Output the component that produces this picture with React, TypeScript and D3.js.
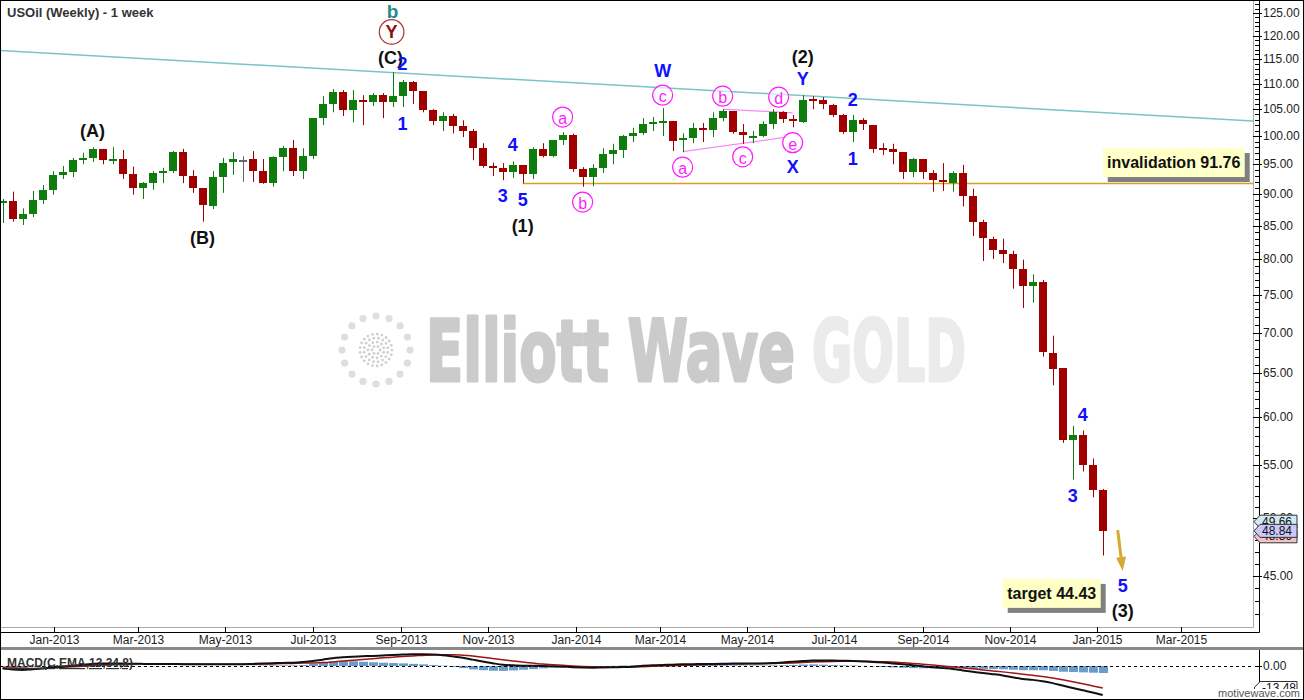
import React from 'react';
import * as d3 from 'd3';

const FONT = '"Liberation Sans", Arial, Helvetica, sans-serif';

// ---------- DATA ----------
// weekly candles, first bar = week of 26 Nov 2012
const firstWeek = Date.UTC(2012, 10, 26);
const WEEK_MS = 7 * 24 * 3600 * 1000;

const openP = [
  88.4, 88.8, 86.0, 86.8, 89.0, 90.7, 93.2, 93.7, 95.7, 96.1,
  97.7, 95.7, 95.9, 93.3, 91.0, 91.8, 93.5, 93.8, 97.1, 93.0,
  91.0, 88.2, 92.9, 95.3, 95.8, 95.9, 93.8, 91.7, 96.2, 97.8,
  93.8, 96.4, 103.3, 106.0, 108.3, 104.8, 106.8, 106.4, 107.7, 106.4,
  107.5, 110.3, 108.5, 104.8, 102.7, 103.7, 101.8, 100.9, 97.8, 94.7,
  94.4, 93.7, 94.9, 93.3, 97.7, 96.4, 99.3, 100.2, 94.2, 92.8,
  94.4, 96.8, 97.5, 100.0, 100.5, 102.2, 102.5, 102.7, 99.3, 99.6,
  101.5, 101.1, 103.3, 104.6, 100.7, 99.8, 100.0, 102.2, 104.4, 103.1,
  102.7, 107.0, 106.8, 105.8, 103.9, 100.7, 102.9, 102.0, 97.8, 97.7,
  97.1, 93.7, 95.9, 93.5, 92.3, 91.8, 93.5, 89.7, 85.6, 83.0,
  81.3, 80.7, 78.6, 76.2, 76.7, 67.5, 65.6, 57.6, 58.1, 55.0,
  52.6,
];
const highP = [
  89.2, 90.4, 87.7, 90.5, 91.5, 93.8, 94.7, 96.1, 97.0, 98.0,
  97.7, 98.0, 97.5, 94.6, 92.0, 93.8, 94.4, 97.3, 97.7, 94.0,
  91.0, 93.8, 96.1, 97.1, 96.4, 97.3, 95.9, 96.4, 98.2, 99.3,
  97.8, 103.3, 107.5, 108.9, 108.7, 108.7, 107.7, 108.1, 108.1, 112.3,
  110.7, 110.5, 108.5, 105.0, 104.4, 104.1, 102.9, 101.3, 98.7, 95.3,
  95.2, 95.5, 94.9, 98.0, 98.7, 99.3, 100.7, 100.4, 94.5, 95.0,
  97.8, 98.6, 100.2, 101.5, 103.3, 103.5, 105.2, 102.7, 100.5, 102.4,
  102.4, 104.4, 105.0, 104.6, 102.2, 100.9, 102.7, 105.0, 104.6, 103.9,
  107.7, 107.5, 107.3, 106.0, 104.1, 103.9, 103.3, 102.0, 98.7, 98.6,
  97.1, 96.1, 95.9, 94.0, 95.2, 93.8, 94.9, 90.9, 85.9, 83.3,
  83.0, 81.2, 79.9, 77.8, 77.0, 69.6, 65.6, 59.1, 58.6, 55.7,
  52.7,
];
const lowP = [
  85.4, 85.6, 85.1, 86.3, 88.4, 89.9, 92.5, 92.8, 95.0, 95.4,
  95.0, 95.0, 92.5, 89.9, 89.2, 90.7, 91.8, 93.5, 91.8, 90.2,
  85.6, 87.6, 90.2, 93.2, 92.0, 92.0, 91.7, 91.2, 93.8, 93.0,
  92.5, 95.9, 102.0, 104.4, 103.7, 102.5, 102.0, 105.6, 103.3, 105.4,
  105.4, 106.0, 104.4, 102.0, 100.9, 100.5, 99.8, 95.7, 94.4, 93.0,
  92.3, 92.7, 91.76, 92.5, 96.2, 96.2, 98.4, 93.7, 91.2, 91.3,
  93.5, 95.0, 96.1, 98.9, 100.2, 100.9, 100.0, 97.3, 97.1, 98.7,
  98.9, 99.8, 102.7, 100.4, 98.6, 98.7, 99.8, 101.3, 102.4, 101.6,
  102.4, 105.0, 105.0, 103.5, 100.4, 98.9, 101.1, 97.0, 96.6, 95.0,
  92.5, 92.8, 92.5, 90.4, 90.5, 90.4, 88.0, 83.4, 79.7, 80.0,
  79.4, 75.8, 73.2, 73.9, 67.0, 63.6, 57.3, 53.6, 54.4, 51.9,
  46.7,
];
const closeP = [
  88.8, 86.0, 86.8, 89.0, 90.7, 93.2, 93.7, 95.7, 96.1, 97.7,
  95.7, 95.9, 93.3, 91.0, 91.8, 93.5, 93.8, 97.1, 93.0, 91.0,
  88.2, 92.9, 95.3, 95.9, 95.8, 93.8, 91.7, 96.2, 97.8, 93.8,
  96.4, 103.3, 106.0, 108.3, 104.8, 106.8, 106.4, 107.7, 106.4, 107.5,
  110.3, 108.5, 104.8, 102.7, 103.7, 101.8, 100.9, 97.8, 94.7, 94.5,
  93.7, 94.9, 93.3, 97.7, 96.4, 99.3, 100.2, 94.2, 92.8, 94.4,
  96.8, 97.5, 100.0, 100.5, 102.2, 102.5, 102.7, 99.1, 99.6, 101.5,
  101.3, 103.3, 104.6, 100.7, 100.2, 100.0, 102.2, 104.4, 103.1, 102.7,
  106.8, 106.8, 106.0, 103.9, 100.7, 102.9, 102.2, 97.7, 97.7, 97.1,
  93.7, 95.9, 93.7, 92.3, 92.0, 93.5, 89.7, 85.6, 83.1, 81.3,
  80.7, 78.6, 76.2, 76.7, 67.5, 65.6, 57.6, 58.1, 55.0, 52.6,
  48.84,
];

// MACD(C,EMA,13,34,8)
const macdLine = [
  -1.6, -2.2, -2.5, -2.0, -1.5, -0.9, -0.4, 0.2, 0.8, 1.3,
  1.6, 1.6, 1.5, 1.4, 1.3, 1.2, 1.2, 1.2, 1.1, 1.1,
  1.0, 1.0, 1.0, 1.0, 1.1, 1.3, 1.5, 1.7, 1.9, 2.0,
  2.4, 3.1, 3.9, 4.8, 5.3, 5.7, 6.0, 6.2, 6.5, 6.8,
  7.0, 7.2, 7.2, 7.0, 6.6, 5.9, 5.1, 3.9, 2.7, 1.7,
  0.8, 0.4, 0.2, 0.1, 0.0, -0.2, -0.4, -0.7, -0.9, -1.0,
  -0.9, -0.8, -0.6, -0.4, 0.2, 0.4, 0.6, 0.8, 1.0, 1.1,
  1.2, 1.3, 1.4, 1.5, 1.5, 1.5, 1.6, 1.8, 2.2, 2.6,
  3.0, 3.3, 3.3, 3.3, 3.2, 3.1, 2.8, 2.5, 2.1, 1.6,
  1.1, 0.4, -0.2, -0.8, -1.3, -1.8, -2.7, -3.5, -4.3, -5.0,
  -5.8, -6.9, -7.9, -8.5, -9.3, -10.5, -12.0, -13.5, -14.9, -16.2,
  -17.8,
];
const signalLine = [
  -1.0, -1.2, -1.4, -1.5, -1.4, -1.2, -0.8, -0.5, -0.1, 0.3,
  0.7, 1.0, 1.2, 1.3, 1.4, 1.4, 1.3, 1.3, 1.2, 1.2,
  1.1, 1.1, 1.0, 1.0, 1.0, 1.1, 1.2, 1.3, 1.5, 1.6,
  1.8, 1.9, 2.1, 2.5, 3.0, 3.5, 4.0, 4.5, 5.0, 5.4,
  5.8, 6.2, 6.5, 6.8, 6.9, 6.9, 6.6, 6.1, 5.4, 4.6,
  3.8, 3.1, 2.4, 1.8, 1.2, 0.8, 0.4, 0.0, -0.3, -0.5,
  -0.6, -0.7, -0.7, -0.6, -0.4, -0.2, 0.0, 0.2, 0.4, 0.6,
  0.8, 0.9, 1.0, 1.2, 1.3, 1.4, 1.5, 1.5, 1.7, 1.9,
  2.1, 2.4, 2.6, 2.8, 2.9, 2.9, 2.9, 2.8, 2.6, 2.4,
  2.0, 1.6, 1.1, 0.6, 0.0, -0.5, -1.1, -1.7, -2.4, -3.0,
  -3.6, -4.3, -5.0, -5.7, -6.4, -7.3, -8.4, -9.6, -10.9, -12.2,
  -13.5,
];
const macdHist = [
  -0.6, -1.0, -1.1, -0.5, -0.1, 0.3, 0.4, 0.7, 0.9, 1.0,
  0.9, 0.6, 0.3, 0.1, -0.1, -0.2, -0.1, -0.1, -0.1, -0.1,
  -0.1, -0.1, 0.0, 0.0, 0.1, 0.2, 0.3, 0.4, 0.4, 0.4,
  0.6, 1.4, 2.2, 2.8, 3.0, 2.9, 2.6, 2.3, 2.0, 1.8,
  1.6, 1.3, 1.0, 0.6, 0.2, -0.6, -1.3, -2.1, -2.6, -2.9,
  -3.0, -2.7, -2.3, -1.9, -1.4, -1.0, -0.7, -0.6, -0.5, -0.4,
  -0.2, 0.1, 0.3, 0.4, 0.6, 0.6, 0.7, 0.8, 0.9, 0.8,
  0.7, 0.6, 0.5, 0.4, 0.3, 0.3, 0.3, 0.4, 0.5, 0.6,
  0.9, 1.0, 0.8, 0.6, 0.4, 0.3, 0.1, -0.2, -0.6, -0.9,
  -1.1, -1.3, -1.4, -1.4, -1.3, -1.3, -1.5, -1.7, -1.8, -1.9,
  -2.0, -2.3, -2.6, -2.6, -2.6, -3.0, -3.5, -3.7, -3.9, -4.1,
  -4.3,
];

const priceTickLabels = [45, 50, 55, 60, 65, 70, 75, 80, 85, 90, 95, 100, 105, 110, 115, 120, 125];
const monthTickLabels = [
  'Jan-2013', 'Mar-2013', 'May-2013', 'Jul-2013', 'Sep-2013', 'Nov-2013',
  'Jan-2014', 'Mar-2014', 'May-2014', 'Jul-2014', 'Sep-2014', 'Nov-2014',
  'Jan-2015', 'Mar-2015',
];

// wave labels: text, bar index (1-based), price, kind
const waveLabels = [
  { t: '(A)', i: 10, p: 100.9, k: 'deg' },
  { t: '(B)', i: 21, p: 83.1, k: 'deg' },
  { t: 'b', i: 40, p: 125.4, k: 'teal' },
  { t: 'Y', i: 39.9, p: 120.8, k: 'red' },
  { t: '(C)', i: 39.8, p: 115.2, k: 'deg' },
  { t: '2', i: 41, p: 114.0, k: 'minor' },
  { t: '1', i: 41, p: 102.2, k: 'minor' },
  { t: '4', i: 52, p: 98.4, k: 'minor' },
  { t: '3', i: 51, p: 89.7, k: 'minor' },
  { t: '5', i: 53, p: 89.0, k: 'minor' },
  { t: '(1)', i: 53, p: 84.9, k: 'deg' },
  { t: 'a', i: 57, p: 103.5, k: 'minute' },
  { t: 'b', i: 59, p: 88.7, k: 'minute' },
  { t: 'W', i: 67, p: 112.5, k: 'minor' },
  { t: 'c', i: 67, p: 107.7, k: 'minute' },
  { t: 'a', i: 69, p: 94.5, k: 'minute' },
  { t: 'b', i: 73, p: 107.5, k: 'minute' },
  { t: 'c', i: 75, p: 96.3, k: 'minute' },
  { t: 'd', i: 78.6, p: 107.3, k: 'minute' },
  { t: 'e', i: 80, p: 98.8, k: 'minute' },
  { t: 'X', i: 80, p: 94.5, k: 'minor' },
  { t: 'Y', i: 81, p: 110.9, k: 'minor' },
  { t: '(2)', i: 81, p: 115.4, k: 'deg' },
  { t: '2', i: 86, p: 106.8, k: 'minor' },
  { t: '1', i: 86, p: 96.0, k: 'minor' },
  { t: '4', i: 109, p: 60.3, k: 'minor' },
  { t: '3', i: 108, p: 52.0, k: 'minor' },
  { t: '5', i: 113, p: 44.2, k: 'minor' },
  { t: '(3)', i: 113, p: 42.2, k: 'deg' },
];

// trend channel line through two highs (bar index, price)
const trendAnchors = [
  [40, 112.2],
  [81, 107.6],
];
// triangle boundary lines (bar index, price)
const triangleUpper = [
  [73, 105.0],
  [80, 104.3],
];
const triangleLower = [
  [69, 97.2],
  [79.4, 99.8],
];
const invalidationLevel = 91.76;
const invalidationStartBar = 53;
const targetLevel = 44.43;
const arrowPts = [
  [112.5, 48.9],
  [113, 45.4],
];
const noteBoxes = [
  { t: 'invalidation 91.76', i: 118.1, p: 95.3, w: 142 },
  { t: 'target ' + targetLevel.toFixed(2), i: 105.9, p: 43.6, w: 98 },
];
const priceTags = [
  { v: 48.36, fill: '#f2c4c4' },
  { v: 49.66, fill: '#d2eaf4' },
  { v: 48.84, fill: '#c8c8fa' },
];
const macdTagValue = -13.48;

// ---------- COMPONENT ----------
export default function App() {
  const W = 1304;
  const H = 700;
  const plotR = 1253;
  const plotB = 627;
  const axisX = 1259;
  const axisY = 632;

  const x = d3
    .scaleUtc()
    .domain([new Date(Date.UTC(2013, 0, 1)), new Date(Date.UTC(2015, 0, 1))])
    .range([54, 1097]);
  const xi = (i: number) => x(new Date(firstWeek + (i - 1) * WEEK_MS));
  const y = d3.scaleLog().domain([41.02, 128.0]).range([plotB, 0]);
  const ym = d3.scaleLinear().domain([0, -13.48]).range([666, 688]);
  const parseMonth = d3.utcParse('%b-%Y');

  const GREEN = '#0e7d0e';
  const RED = '#a00000';
  const BLUE = '#1010ff';
  const MAG = '#ff1cff';

  // trend line extended across plot (straight in pixel space)
  const tx1 = xi(trendAnchors[0][0]);
  const ty1 = y(trendAnchors[0][1]);
  const tx2 = xi(trendAnchors[1][0]);
  const ty2 = y(trendAnchors[1][1]);
  const slope = (ty2 - ty1) / (tx2 - tx1);
  const trendY = (px: number) => ty1 + (px - tx1) * slope;

  const candles = openP.map((o, k) => {
    const h = highP[k];
    const l = lowP[k];
    const c = closeP[k];
    const cx = Math.round(xi(k + 1));
    const col = c > o ? GREEN : c < o ? RED : '#666';
    const yo = y(o);
    const yc = y(c);
    const top = Math.round(Math.min(yo, yc));
    const bh = Math.max(2, Math.round(Math.abs(yo - yc)));
    return (
      <g key={k}>
        <rect x={cx} y={y(h)} width={1} height={y(l) - y(h)} fill={col} />
        <rect x={cx - 4} y={top} width={8} height={bh} fill={col} />
      </g>
    );
  });

  const lineGen = d3
    .line<number>()
    .x((_, k) => xi(k + 1))
    .y((v) => ym(v))
    .curve(d3.curveMonotoneX);

  const minorTicks = d3.range(42, 128);

  const renderLabel = (L: any, k: number) => {
    const cx = xi(L.i);
    const cy = y(L.p);
    if (L.k === 'minute') {
      return (
        <g key={k}>
          <circle cx={cx} cy={cy} r={10} fill="#fff" fillOpacity={0.6} stroke={MAG} strokeWidth={1.2} />
          <text x={cx} y={cy + 1.5} textAnchor="middle" dominantBaseline="central" fontSize={16} fill={MAG}>
            {L.t}
          </text>
        </g>
      );
    }
    if (L.k === 'red') {
      return (
        <g key={k}>
          <circle cx={cx} cy={cy} r={12.3} fill="none" stroke="#a83232" strokeWidth={1.2} />
          <text x={cx} y={cy + 0.5} textAnchor="middle" dominantBaseline="central" fontSize={18} fontWeight="bold" fill="#8b1010">
            {L.t}
          </text>
        </g>
      );
    }
    const fill = L.k === 'deg' ? '#111' : L.k === 'teal' ? '#268a8a' : BLUE;
    const fs = L.k === 'teal' ? 19 : 18;
    return (
      <text key={k} x={cx} y={cy} textAnchor="middle" dominantBaseline="central" fontSize={fs} fontWeight="bold" fill={fill}>
        {L.t}
      </text>
    );
  };

  // watermark logo dots
  const logoCx = 376;
  const logoCy = 350;
  const outerDots = d3.range(16).map((k) => {
    const a = (k / 16) * Math.PI * 2;
    return (
      <circle key={'o' + k} cx={logoCx + 34 * Math.cos(a)} cy={logoCy + 34 * Math.sin(a)} r={3.6} fill="#dedede" />
    );
  });
  const innerDots: any[] = [];
  [
    [4, 6],
    [8, 11],
    [12, 16],
    [16, 21],
  ].forEach(([r, n], ri) => {
    for (let k = 0; k < n; k++) {
      const a = (k / n) * Math.PI * 2 + ri * 0.3;
      innerDots.push(
        <circle key={'i' + ri + '-' + k} cx={logoCx + r * Math.cos(a)} cy={logoCy + r * Math.sin(a)} r={1.4} fill="#cfcfcf" />
      );
    }
  });

  const arrowX1 = xi(arrowPts[0][0]);
  const arrowY1 = y(arrowPts[0][1]);
  const arrowX2 = xi(arrowPts[1][0]);
  const arrowY2 = y(arrowPts[1][1]);
  const ang = Math.atan2(arrowY2 - arrowY1, arrowX2 - arrowX1);
  const headLen = 14;
  const headW = 5;
  const hbx = arrowX2 - headLen * Math.cos(ang);
  const hby = arrowY2 - headLen * Math.sin(ang);
  const px = -Math.sin(ang);
  const py = Math.cos(ang);

  const tagPath = (yc: number) =>
    `M${plotR + 1},${yc} L${plotR + 7},${yc - 6.5} L${W - 7},${yc - 6.5} L${W - 7},${yc + 6.5} L${plotR + 7},${yc + 6.5} Z`;

  return (
    <svg
      width={W}
      height={H}
      style={{ position: 'absolute', left: 0, top: 0, display: 'block', background: '#fff' }}
      fontFamily={FONT}
    >
      <defs>
        <clipPath id="plotClip">
          <rect x={0} y={0} width={plotR} height={plotB} />
        </clipPath>
        <clipPath id="macdClip">
          <rect x={0} y={650} width={plotR} height={49} />
        </clipPath>
      </defs>
      <rect x={0} y={0} width={W} height={H} fill="#fff" />

      {/* watermark */}
      <g>
        {outerDots}
        {innerDots}
        <text
          x={426}
          y={381}
          fontFamily='"Liberation Sans Narrow", "DejaVu Sans Condensed", "Liberation Sans", sans-serif'
          fontWeight="bold"
          fontSize={86}
          fill="#cbcbcb"
          stroke="#cbcbcb"
          strokeWidth={3}
          strokeLinejoin="round"
          textLength={369}
          lengthAdjust="spacingAndGlyphs"
        >
          Elliott Wave
        </text>
        <text
          x={812}
          y={381}
          fontFamily='"Liberation Sans Narrow", "DejaVu Sans Condensed", "Liberation Sans", sans-serif'
          fontWeight="bold"
          fontSize={86}
          fill="#ebebeb"
          stroke="#ebebeb"
          strokeWidth={3}
          strokeLinejoin="round"
          textLength={154}
          lengthAdjust="spacingAndGlyphs"
        >
          GOLD
        </text>
      </g>

      <g clipPath="url(#plotClip)">
        {/* trend line */}
        <line x1={0} y1={trendY(0)} x2={plotR} y2={trendY(plotR)} stroke="#7cc4c4" strokeWidth={1.5} />
        {/* invalidation level */}
        <line
          x1={xi(invalidationStartBar)}
          y1={y(invalidationLevel)}
          x2={plotR}
          y2={y(invalidationLevel)}
          stroke="#d4a020"
          strokeWidth={1.5}
        />
        {/* triangle lines */}
        <line
          x1={xi(triangleUpper[0][0])}
          y1={y(triangleUpper[0][1])}
          x2={xi(triangleUpper[1][0])}
          y2={y(triangleUpper[1][1])}
          stroke="#f58cf5"
          strokeWidth={1.2}
        />
        <line
          x1={xi(triangleLower[0][0])}
          y1={y(triangleLower[0][1])}
          x2={xi(triangleLower[1][0])}
          y2={y(triangleLower[1][1])}
          stroke="#f58cf5"
          strokeWidth={1.2}
        />
        {candles}
      </g>

      {/* header */}
      <text x={7} y={17} fontSize={13} fontWeight="bold" fill="#333">
        USOil (Weekly) - 1 week
      </text>

      {/* wave labels */}
      {waveLabels.map(renderLabel)}

      {/* arrow */}
      <line x1={arrowX1} y1={arrowY1} x2={hbx} y2={hby} stroke="#d4aa30" strokeWidth={3} />
      <path
        d={`M${arrowX2},${arrowY2} L${hbx + px * headW},${hby + py * headW} L${hbx - px * headW},${hby - py * headW} Z`}
        fill="#d4aa30"
      />

      {/* note boxes */}
      {noteBoxes.map((b, k) => {
        const cx = xi(b.i);
        const cy = y(b.p);
        const h = 29;
        return (
          <g key={k}>
            <rect x={cx - b.w / 2 + 5} y={cy - h / 2 + 5} width={b.w} height={h} fill="#808080" />
            <rect x={cx - b.w / 2} y={cy - h / 2} width={b.w} height={h} fill="#ffffc8" />
            <text x={cx} y={cy} textAnchor="middle" dominantBaseline="central" fontSize={16} fontWeight="bold" fill="#111">
              {b.t}
            </text>
          </g>
        );
      })}

      {/* plot frame */}
      <line x1={plotR + 0.5} y1={0} x2={plotR + 0.5} y2={plotB + 0.5} stroke="#aaa" />
      <line x1={0} y1={plotB + 0.5} x2={plotR + 0.5} y2={plotB + 0.5} stroke="#aaa" />
      <line x1={axisX + 0.5} y1={0} x2={axisX + 0.5} y2={axisY + 0.5} stroke="#000" />
      <line x1={0} y1={axisY + 0.5} x2={axisX + 0.5} y2={axisY + 0.5} stroke="#000" />

      {/* y axis ticks & labels */}
      {minorTicks.map((v) => {
        const yy = Math.round(y(v)) + 0.5;
        const major = v % 5 === 0;
        return (
          <line key={'mt' + v} x1={major ? plotR : axisX - 4} y1={yy} x2={major ? axisX + 3 : axisX} y2={yy} stroke="#000" />
        );
      })}
      {priceTickLabels.map((v) => (
        <text key={'pl' + v} x={1263} y={y(v)} dominantBaseline="central" fontSize={12} fill="#222">
          {v.toFixed(2)}
        </text>
      ))}

      {/* x axis */}
      {monthTickLabels.map((s) => {
        const d = parseMonth(s) as Date;
        const xx = Math.round(x(d)) + 0.5;
        return (
          <g key={s}>
            <line x1={xx} y1={plotB} x2={xx} y2={axisY} stroke="#000" />
            <text x={xx} y={640} textAnchor="middle" dominantBaseline="central" fontSize={12} fill="#222">
              {s}
            </text>
          </g>
        );
      })}

      {/* price tags */}
      {priceTags.map((t, k) => {
        const yc = y(t.v);
        return (
          <g key={'tag' + k}>
            <path d={tagPath(yc)} fill={t.fill} stroke="#333" strokeWidth={1} />
            <text x={plotR + 9} y={yc} dominantBaseline="central" fontSize={12} fill="#111">
              {t.v.toFixed(2)}
            </text>
          </g>
        );
      })}

      {/* separator */}
      <rect x={0} y={647} width={W} height={3} fill="#8a8a8a" />

      {/* MACD panel */}
      <g clipPath="url(#macdClip)">
        {macdHist.map((v, k) => {
          const cx = Math.round(xi(k + 1));
          const y0 = ym(0);
          const y1 = ym(v);
          return <rect key={'h' + k} x={cx - 4} y={Math.min(y0, y1)} width={9} height={Math.abs(y1 - y0)} fill="#6b9bc8" />;
        })}
        <line x1={0} y1={ym(0) + 0.5} x2={plotR} y2={ym(0) + 0.5} stroke="#000" strokeDasharray="3,3" />
        <path d={lineGen(signalLine) || ''} fill="none" stroke="#a01414" strokeWidth={1.5} />
        <path d={lineGen(macdLine) || ''} fill="none" stroke="#111" strokeWidth={2} />
      </g>
      <text x={7} y={667} fontSize={12} fontWeight="bold" fill="#333" textDecoration="underline">
        MACD(C,EMA,13,34,8)
      </text>
      <line x1={axisX + 0.5} y1={650} x2={axisX + 0.5} y2={H} stroke="#000" />
      <line x1={axisX - 4} y1={ym(0) + 0.5} x2={axisX + 3} y2={ym(0) + 0.5} stroke="#000" />
      <text x={1263} y={ym(0)} dominantBaseline="central" fontSize={12} fill="#222">
        0.00
      </text>
      <g>
        <path d={tagPath(ym(macdTagValue))} fill="#fff" stroke="#333" />
        <text x={plotR + 9} y={ym(macdTagValue)} dominantBaseline="central" fontSize={12} fill="#111">
          {macdTagValue.toFixed(2)}
        </text>
        <rect x={1224} y={689} width={78} height={10} fill="#fff" />
        <text x={1300} y={697} textAnchor="end" fontSize={11} fill="#555">
          motivewave.com
        </text>
      </g>

      {/* outer border */}
      <rect x={0.5} y={0.5} width={W - 1} height={H - 1} fill="none" stroke="#000" />
    </svg>
  );
}
